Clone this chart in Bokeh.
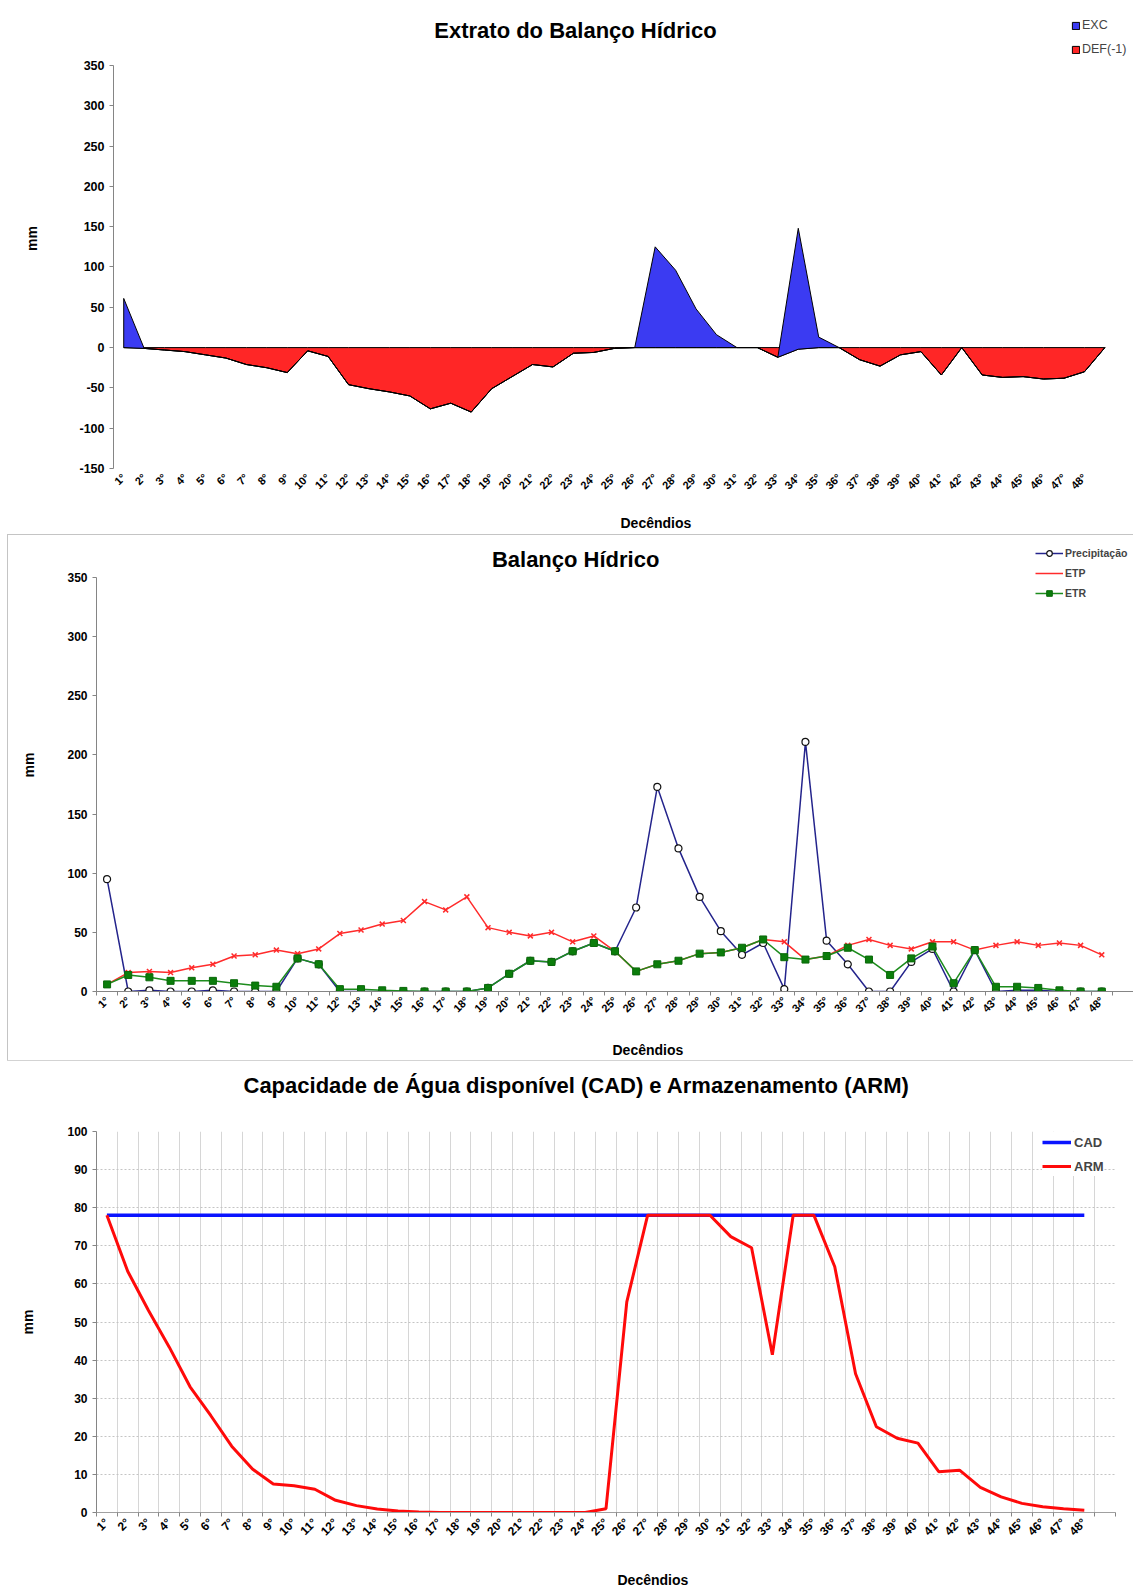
import math
from bokeh.plotting import figure
from bokeh.models import Range1d, FixedTicker, Legend, LegendItem, Title, Label
from bokeh.embed import file_html
from bokeh.resources import INLINE

# ---------------- data ----------------
decendios = list(range(1, 49))          # 1..48
decendios_ext = list(range(1, 50))      # chart 1 has a 49th (empty) point
tick_labels = {i: f"{i}°" for i in decendios}

exc = [61, 0, 0, 0, 0, 0, 0, 0, 0, 0, 0, 0, 0, 0, 0, 0, 0, 0, 0, 0, 0, 0, 0, 0, 0,
       0, 125, 96, 48, 16, 0, 0, 0, 150, 13, 0, 0, 0, 0, 0, 0, 0, 0, 0, 0, 0, 0, 0, 0]
def_neg = [0, -1, -3, -5, -9, -13, -21, -25, -31, -4, -11, -46, -51, -55, -60, -76, -69,
           -80, -51, -36, -21, -24, -7, -6, -1, 0, 0, 0, 0, 0, 0, 0, -12, -2, 0, 0, -15,
           -23, -9, -5, -34, 0, -34, -37, -36, -39, -38, -30, 0]

precipitacao = [95, 0, 1, 0, 0, 1, 0, 0, 0, 28, 23, 0, 0, 0, 0, 0, 0, 0, 3, 15, 26, 25,
                34, 41, 34, 71, 173, 121, 80, 51, 31, 41, 2, 211, 43, 23, 0, 0, 25, 36,
                0, 35, 0, 1, 1, 0, 0, 0]
etp = [6, 16, 17, 16, 20, 23, 30, 31, 35, 32, 36, 49, 52, 57, 60, 76, 69, 80, 54, 50,
       47, 50, 42, 47, 34, 17, 23, 26, 32, 33, 37, 44, 42, 27, 30, 39, 44, 39, 36, 42,
       42, 35, 39, 42, 39, 41, 39, 31]
etr = [6, 14, 12, 9, 9, 9, 7, 5, 4, 28, 23, 2, 2, 1, 0.5, 0, 0, 0, 3, 15, 26, 25, 34,
       41, 34, 17, 23, 26, 32, 33, 37, 44, 29, 27, 30, 37, 27, 14, 28, 38, 7, 35, 4, 4,
       3, 1, 0, 0]

arm = [78, 63.3, 53, 43.4, 33, 25.4, 17.4, 11.4, 7.5, 7.0, 6.1, 3.2, 1.8, 0.9, 0.4, 0.1,
       0, 0, 0, 0, 0, 0, 0, 0, 1.0, 55.3, 78, 78, 78, 78, 72.4, 69.5, 41.4, 78, 78, 64.5,
       36.4, 22.5, 19.5, 18.2, 10.7, 11.1, 6.6, 4.1, 2.4, 1.5, 1.0, 0.6]
cad = [78, 78, 78, 78, 78, 78, 78, 78, 78, 78, 78, 78, 78, 78, 78, 78, 78, 78, 78, 78,
       78, 78, 78, 78, 78, 78, 78, 78, 78, 78, 78, 78, 78, 78, 78, 78, 78, 78, 78, 78,
       78, 78, 78, 78, 78, 78, 78, 78]

FONT = "Liberation Sans"
AXIS_GRAY = "#858585"
TITLE_SIZE = "22px"


def base_style(p, ylabel_size, xlabel_size):
    p.outline_line_color = None
    p.background_fill_color = "white"
    p.border_fill_color = "white"
    for ax, size in ((p.xaxis[0], xlabel_size), (p.yaxis[0], ylabel_size)):
        ax.major_label_text_font = FONT
        ax.major_label_text_font_style = "bold"
        ax.major_label_text_font_size = size
        ax.major_label_text_color = "black"
        ax.axis_label_text_font = FONT
        ax.axis_label_text_font_style = "bold"
        ax.axis_label_text_font_size = "14px"
        ax.axis_label_text_color = "black"
        ax.minor_tick_line_color = None
    p.yaxis.axis_line_color = AXIS_GRAY
    p.yaxis.major_tick_line_color = AXIS_GRAY
    p.yaxis.major_tick_out = 4
    p.yaxis.major_tick_in = 0
    p.yaxis.major_label_standoff = 5
    p.xaxis.ticker = FixedTicker(ticks=decendios,
                                 minor_ticks=[i + 0.5 for i in range(0, 50)])
    p.xaxis.major_label_overrides = tick_labels
    p.xaxis.major_label_orientation = math.pi / 4
    p.xaxis.major_tick_line_color = None
    p.xaxis.major_tick_out = 4
    p.xaxis.major_tick_in = 0


def title_label(x, y, text):
    return Label(x=x, y=y, text=text, text_align="center", text_baseline="middle",
                 text_font=FONT, text_font_style="bold", text_font_size=TITLE_SIZE,
                 text_color="black")


def add_xlabel(p, offset, spacer_size):
    # spacer (closest to the axis), then the label itself
    p.add_layout(Title(text=" ", text_font_size=spacer_size, standoff=0), "below")
    p.add_layout(Title(text="Decêndios", align="left", offset=offset,
                       standoff=0, text_font=FONT, text_font_style="bold",
                       text_font_size="14px", text_color="black"), "below")


# ---------------- chart 1: Extrato ----------------
p1 = figure(width=1133, height=532, x_range=Range1d(0.5, 50.4),
            y_range=Range1d(-150, 420.7), output_backend="svg", toolbar_location=None,
            title_location=None,
            min_border_left=113, min_border_right=0, min_border_top=8,
            min_border_bottom=64)
base_style(p1, "12.5px", "11px")
p1.grid.visible = False
p1.yaxis.ticker = FixedTicker(ticks=list(range(-150, 351, 50)))
p1.yaxis.bounds = (-150, 350)
p1.yaxis.major_label_overrides = {-150: "-150", -100: "-100", -50: "-50"}
p1.yaxis.axis_label = "mm"
p1.yaxis.axis_label_standoff = 36
p1.xaxis.axis_line_color = None
p1.xaxis.minor_tick_line_color = None
p1.xaxis.major_label_standoff = 3
add_xlabel(p1, 507, "11.5px")
p1.add_layout(title_label(23.1, 393.6, "Extrato do Balanço Hídrico"))

zeros_ext = [0 for _ in decendios_ext]
exc_top = [d + e for d, e in zip(def_neg, exc)]
r_def = p1.patch(x=decendios_ext + decendios_ext[::-1], y=def_neg + zeros_ext[::-1],
                 fill_color="#ff2626", line_color="black", line_width=1)
r_exc = p1.patch(x=decendios_ext + decendios_ext[::-1], y=exc_top + def_neg[::-1],
                 fill_color="#3b3bf2", line_color="black", line_width=1)

leg1 = Legend(items=[LegendItem(label="EXC", renderers=[r_exc]),
                     LegendItem(label="DEF(-1)", renderers=[r_def])],
              location=(958, 409), glyph_width=9, glyph_height=9, label_height=20,
              spacing=4, padding=0, margin=0, label_standoff=2,
              border_line_color=None, background_fill_alpha=0,
              label_text_font=FONT, label_text_font_size="12.5px")
p1.add_layout(leg1)

# ---------------- chart 2: Balanço Hídrico ----------------
p2 = figure(width=1125, height=525, x_range=Range1d(0.5, 49.5),
            y_range=Range1d(0, 383.0), output_backend="svg", toolbar_location=None,
            title_location=None,
            min_border_left=88, min_border_right=0, min_border_top=3,
            min_border_bottom=69, margin=(3, 0, 0, 8))
p2.styles = {"outline": "1px solid #c4c4c4"}
base_style(p2, "12px", "11px")
p2.grid.visible = False
p2.yaxis.ticker = FixedTicker(ticks=list(range(0, 351, 50)))
p2.yaxis.bounds = (0, 350)
p2.yaxis.axis_label = "mm"
p2.yaxis.axis_label_standoff = 27
p2.xaxis.axis_line_color = AXIS_GRAY
p2.xaxis.minor_tick_line_color = AXIS_GRAY
p2.xaxis.minor_tick_out = 4
p2.xaxis.minor_tick_in = 0
p2.xaxis.major_label_standoff = 3
add_xlabel(p2, 516, "14px")
p2.add_layout(title_label(23.14, 365.2, "Balanço Hídrico"))

l_p = p2.line(decendios, precipitacao, line_color="#24248c", line_width=1.5)
m_p = p2.scatter(decendios, precipitacao, marker="circle", size=7, fill_color="white",
                 line_color="#111111", line_width=1.2)
l_etp = p2.line(decendios, etp, line_color="#ff2b2b", line_width=1.5)
m_etp = p2.scatter(decendios, etp, marker="x", size=7, line_color="#ff2b2b",
                   line_width=1.5)
l_etr = p2.line(decendios, etr, line_color="#1d8c1d", line_width=1.5)
m_etr = p2.scatter(decendios, etr, marker="square", size=7, fill_color="#0b7d0b",
                   line_color="#0a690a")

leg2 = Legend(items=[LegendItem(label="Precipitação", renderers=[l_p, m_p]),
                     LegendItem(label="ETP", renderers=[l_etp]),
                     LegendItem(label="ETR", renderers=[l_etr, m_etr])],
              location=(939, 390), glyph_width=28, glyph_height=14, label_height=16,
              spacing=4, padding=0, margin=0, label_standoff=2,
              border_line_color=None, background_fill_alpha=0,
              label_text_font=FONT, label_text_font_size="10.5px",
              label_text_font_style="bold")
p2.add_layout(leg2)

# ---------------- chart 3: CAD / ARM ----------------
p3 = figure(width=1133, height=527, x_range=Range1d(0.5, 49.5),
            y_range=Range1d(0, 100), output_backend="svg", toolbar_location=None,
            title_location=None,
            min_border_left=96, min_border_right=18, min_border_top=71,
            min_border_bottom=73)
base_style(p3, "12px", "12px")
p3.yaxis.ticker = FixedTicker(ticks=list(range(0, 101, 10)))
p3.yaxis.axis_label = "mm"
p3.yaxis.axis_label_standoff = 28
p3.xaxis.axis_line_color = "#a0a0a0"
p3.xaxis.minor_tick_line_color = AXIS_GRAY
p3.xaxis.minor_tick_out = 4
p3.xaxis.minor_tick_in = 0
p3.xaxis.major_label_standoff = 4
p3.xgrid.ticker = FixedTicker(ticks=[i + 0.5 for i in range(1, 50)])
p3.xgrid.grid_line_color = "#d6d6d6"
p3.ygrid.ticker = FixedTicker(ticks=list(range(10, 101, 10)))
p3.ygrid.grid_line_color = "#c4c4c4"
p3.ygrid.grid_line_dash = "2 2"
# title: spacer next to the frame, then the title
p3.add_layout(Title(text=" ", text_font_size="26px", standoff=0), "above")
p3.add_layout(Title(text="Capacidade de Água disponível (CAD) e Armazenamento (ARM)",
                    align="left", offset=147, standoff=4, text_font=FONT,
                    text_font_style="bold", text_font_size=TITLE_SIZE,
                    text_color="black"), "above")
add_xlabel(p3, 521, "18.5px")

l_cad = p3.line(decendios, cad, line_color="#0a14ff", line_width=3.5)
l_arm = p3.line(decendios, arm, line_color="#ff0a0a", line_width=3)

leg3 = Legend(items=[LegendItem(label="CAD", renderers=[l_cad]),
                     LegendItem(label="ARM", renderers=[l_arm])],
              location=(946, 336), glyph_width=29, glyph_height=14, label_height=20,
              spacing=4, padding=6, margin=0, label_standoff=3,
              border_line_color=None, background_fill_color="white",
              background_fill_alpha=1,
              label_text_font=FONT, label_text_font_size="13px",
              label_text_font_style="bold")
p3.add_layout(leg3)

open("out.html", "w").write(file_html([p1, p2, p3], INLINE))
